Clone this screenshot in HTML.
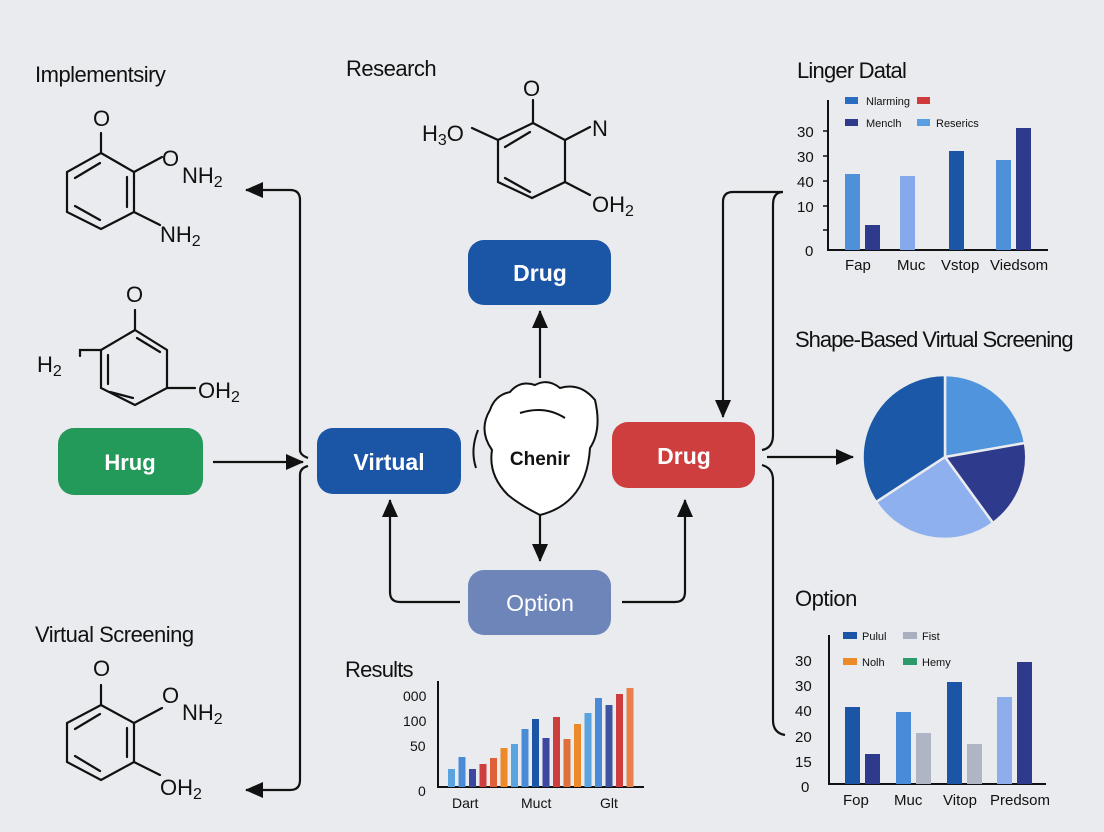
<!DOCTYPE html>
<html><head><meta charset="utf-8"><style>
html,body{margin:0;padding:0;background:#e9ebee;}
svg{display:block;font-family:"Liberation Sans",sans-serif;}
</style></head><body>
<svg width="1104" height="832" viewBox="0 0 1104 832" xmlns="http://www.w3.org/2000/svg">
<defs>
<marker id="ah" markerWidth="10" markerHeight="10" refX="9" refY="5" orient="auto" markerUnits="userSpaceOnUse"><path d="M0,0 L10,5 L0,10 z" fill="#111"/></marker>
<marker id="ahb" markerWidth="18" markerHeight="16" refX="17" refY="8" orient="auto" markerUnits="userSpaceOnUse"><path d="M0,0 L18,8 L0,16 z" fill="#111"/></marker>
</defs>
<rect x="0" y="0" width="1104" height="832" rx="14" fill="#e9ebee"/>

<!-- titles -->
<g fill="#111" font-size="22">
<text x="35" y="82" letter-spacing="-0.5">Implementsiry</text>
<text x="346" y="76" letter-spacing="-0.5">Research</text>
<text x="797" y="78" letter-spacing="-0.8">Linger Datal</text>
<text x="795" y="347" letter-spacing="-1">Shape-Based Virtual Screening</text>
<text x="795" y="606" letter-spacing="-0.5">Option</text>
<text x="35" y="642" letter-spacing="-0.5">Virtual Screening</text>
<text x="345" y="677" letter-spacing="-0.8">Results</text>
</g>

<!-- molecules -->
<g stroke="#111" stroke-width="2.2" fill="none" stroke-linecap="round">
<!-- mol 1 -->
<path d="M101,153 L134,172 L134,212 L101,229 L67,212 L67,172 Z"/>
<path d="M75,178 L100,163 M127,177 L127,207 M75,206 L100,220"/>
<path d="M101,153 L101,133"/>
<path d="M134,172 L162,157 M134,212 L160,225"/>
<!-- mol 2 -->
<path d="M135,330 L167,350 L167,388 L135,405 L101,388 L101,350 Z"/>
<path d="M137,338 L160,352 M108,355 L108,384 M110,392 L133,398"/>
<path d="M135,330 L135,310 M101,350 L80,350 L80,356 M167,388 L195,388"/>
<!-- mol 3 -->
<path d="M101,705 L134,723 L134,762 L101,780 L67,762 L67,723 Z"/>
<path d="M75,729 L100,714 M127,728 L127,757 M75,756 L100,771"/>
<path d="M101,705 L101,685 M134,723 L162,708 M134,762 L160,775"/>
<!-- research mol -->
<path d="M533,123 L565,140 L565,182 L532,198 L498,182 L498,140 Z"/>
<path d="M505,147 L530,132 M505,178 L530,192"/>
<path d="M533,123 L533,100 M498,140 L472,128 M565,140 L590,127 M565,182 L590,195"/>
</g>
<g fill="#111" font-size="22">
<text x="93" y="126">O</text>
<text x="162" y="166">O</text><text x="182" y="183">NH<tspan font-size="16" dy="4">2</tspan></text>
<text x="160" y="242">NH<tspan font-size="16" dy="4">2</tspan></text>
<text x="126" y="302">O</text>
<text x="37" y="372">H<tspan font-size="16" dy="4">2</tspan></text>
<text x="198" y="398">OH<tspan font-size="16" dy="4">2</tspan></text>
<text x="93" y="676">O</text>
<text x="162" y="703">O</text><text x="182" y="720">NH<tspan font-size="16" dy="4">2</tspan></text>
<text x="160" y="795">OH<tspan font-size="16" dy="4">2</tspan></text>
<text x="523" y="96">O</text>
<text x="422" y="141">H<tspan font-size="16" dy="4">3</tspan><tspan dy="-4">O</tspan></text>
<text x="592" y="136">N</text>
<text x="592" y="212">OH<tspan font-size="16" dy="4">2</tspan></text>
</g>

<!-- connectors -->
<g stroke="#111" stroke-width="2.2" fill="none">
<path d="M300,450 L300,200 Q300,190 290,190 L246,190" marker-end="url(#ahb)"/>
<path d="M300,475 L300,780 Q300,790 290,790 L246,790" marker-end="url(#ahb)"/>
<path d="M300,450 Q300,455 308,458"/>
<path d="M300,475 Q300,468 308,466"/>
<path d="M213,462 L303,462" marker-end="url(#ahb)"/>
<path d="M540,378 L540,311" marker-end="url(#ahb)"/>
<path d="M540,512 L540,561" marker-end="url(#ahb)"/>
<path d="M460,602 L400,602 Q390,602 390,592 L390,500" marker-end="url(#ahb)"/>
<path d="M622,602 L675,602 Q685,602 685,592 L685,500" marker-end="url(#ahb)"/>
<path d="M767,457 L853,457" marker-end="url(#ahb)"/>
<path d="M783,192 L733,192 Q723,192 723,202 L723,417" marker-end="url(#ahb)"/>
<path d="M783,192 Q773,192 773,205 L773,435 Q773,448 762,450"/>
<path d="M762,465 Q773,468 773,480 L773,720 Q773,733 785,735"/>
</g>

<!-- boxes -->
<rect x="58" y="428" width="145" height="67" rx="16" fill="#23995a"/>
<text x="130" y="470" text-anchor="middle" fill="#fff" font-size="22" font-weight="bold">Hrug</text>
<rect x="317" y="428" width="144" height="66" rx="16" fill="#1b55a6"/>
<text x="389" y="470" text-anchor="middle" fill="#fff" font-size="23" font-weight="bold">Virtual</text>
<rect x="468" y="240" width="143" height="65" rx="16" fill="#1b55a6"/>
<text x="540" y="281" text-anchor="middle" fill="#fff" font-size="23" font-weight="bold">Drug</text>
<rect x="612" y="422" width="143" height="66" rx="16" fill="#cf3e3e"/>
<text x="684" y="464" text-anchor="middle" fill="#fff" font-size="23" font-weight="bold">Drug</text>
<rect x="468" y="570" width="143" height="65" rx="16" fill="#6d85b8"/>
<text x="540" y="611" text-anchor="middle" fill="#fff" font-size="23">Option</text>

<!-- cloud -->
<path d="M510,392 Q520,380 535,385 Q548,378 560,388 Q580,382 595,400 Q602,430 590,448 Q588,480 572,497 Q560,510 540,515 Q520,505 508,495 Q488,475 492,450 Q478,430 490,410 Q495,395 510,392 Z" fill="#fff" stroke="#111" stroke-width="2"/>
<path d="M520,413 Q545,405 565,418" stroke="#111" stroke-width="2" fill="none"/>
<path d="M478,430 Q470,450 476,468" stroke="#111" stroke-width="2" fill="none"/>
<text x="540" y="465" text-anchor="middle" fill="#111" font-size="19" font-weight="bold">Chenir</text>

<!-- top chart -->
<g font-size="15" fill="#111">
<path d="M828,100 L828,250 L1048,250" stroke="#111" stroke-width="2" fill="none"/>
<path d="M823,131 L828,131 M823,156 L828,156 M823,181 L828,181 M823,206 L828,206 M823,230 L828,230" stroke="#111" stroke-width="1.5"/>
<text x="797" y="137">30</text><text x="797" y="162">30</text><text x="797" y="187">40</text><text x="797" y="212">10</text><text x="805" y="256">0</text>
<rect x="845" y="97" width="13" height="7" fill="#2a6cc0"/><text x="866" y="105" font-size="11">Nlarming</text>
<rect x="917" y="97" width="13" height="7" fill="#d03a3a"/>
<rect x="845" y="119" width="13" height="7" fill="#2e3a8c"/><text x="866" y="127" font-size="11">Menclh</text>
<rect x="917" y="119" width="13" height="7" fill="#5a9de0"/><text x="936" y="127" font-size="11">Reserics</text>
<rect x="845" y="174" width="15" height="76" fill="#4f90db"/>
<rect x="865" y="225" width="15" height="25" fill="#2e3a8c"/>
<rect x="900" y="176" width="15" height="74" fill="#86a9ec"/>
<rect x="949" y="151" width="15" height="99" fill="#1b55a6"/>
<rect x="996" y="160" width="15" height="90" fill="#4f90db"/>
<rect x="1016" y="128" width="15" height="122" fill="#2e3a8c"/>
<text x="845" y="270">Fap</text><text x="897" y="270">Muc</text><text x="941" y="270">Vstop</text><text x="990" y="270">Viedsom</text>
</g>

<!-- pie -->
<g stroke="#e9ebee" stroke-width="2.5">
<path d="M945,457 L945,375 A82,82 0 0 1 1025,443 Z" fill="#4f94dc"/>
<path d="M945,457 L1025,443 A82,82 0 0 1 993,523 Z" fill="#2e3a8c"/>
<path d="M945,457 L993,523 A82,82 0 0 1 876,502 Z" fill="#8fb0ee"/>
<path d="M945,457 L876,502 A82,82 0 0 1 945,375 Z" fill="#1b58a8"/>
</g>

<!-- bottom right chart -->
<g font-size="15" fill="#111">
<path d="M829,635 L829,784 L1046,784" stroke="#111" stroke-width="2" fill="none"/>
<text x="795" y="666">30</text><text x="795" y="691">30</text><text x="795" y="716">40</text><text x="795" y="742">20</text><text x="795" y="767">15</text><text x="801" y="792">0</text>
<rect x="843" y="632" width="14" height="7" fill="#1b55a6"/><text x="862" y="640" font-size="11">Pulul</text>
<rect x="903" y="632" width="14" height="7" fill="#a9afbe"/><text x="922" y="640" font-size="11">Fist</text>
<rect x="843" y="658" width="14" height="7" fill="#ec8a2a"/><text x="862" y="666" font-size="11">Nolh</text>
<rect x="903" y="658" width="14" height="7" fill="#2d9a6a"/><text x="922" y="666" font-size="11">Hemy</text>
<rect x="845" y="707" width="15" height="77" fill="#1b55a6"/>
<rect x="865" y="754" width="15" height="30" fill="#2e3a8c"/>
<rect x="896" y="712" width="15" height="72" fill="#4a8bd8"/>
<rect x="916" y="733" width="15" height="51" fill="#b0b5c5"/>
<rect x="947" y="682" width="15" height="102" fill="#1b55a6"/>
<rect x="967" y="744" width="15" height="40" fill="#b0b5c5"/>
<rect x="997" y="697" width="15" height="87" fill="#8dadec"/>
<rect x="1017" y="662" width="15" height="122" fill="#2e3a8c"/>
<text x="843" y="805">Fop</text><text x="894" y="805">Muc</text><text x="943" y="805">Vitop</text><text x="990" y="805">Predsom</text>
</g>

<!-- results chart -->
<g font-size="14" fill="#111">
<path d="M438,681 L438,787 L644,787" stroke="#111" stroke-width="2" fill="none"/>
<text x="403" y="701">000</text><text x="403" y="726">100</text><text x="410" y="751">50</text><text x="418" y="796">0</text>
<rect x="448" y="769" width="7" height="18" fill="#5ba3df"/>
<rect x="458.5" y="757" width="7" height="30" fill="#4a8bd8"/>
<rect x="469" y="769" width="7" height="18" fill="#3d47a0"/>
<rect x="479.5" y="764" width="7" height="23" fill="#cf3e3e"/>
<rect x="490" y="758" width="7" height="29" fill="#e0603a"/>
<rect x="500.5" y="748" width="7" height="39" fill="#ec8a2a"/>
<rect x="511" y="744" width="7" height="43" fill="#5ba3df"/>
<rect x="521.5" y="729" width="7" height="58" fill="#4a8bd8"/>
<rect x="532" y="719" width="7" height="68" fill="#1b55a6"/>
<rect x="542.5" y="738" width="7" height="49" fill="#3d47a0"/>
<rect x="553" y="717" width="7" height="70" fill="#cf3e3e"/>
<rect x="563.5" y="739" width="7" height="48" fill="#e0703a"/>
<rect x="574" y="724" width="7" height="63" fill="#ec8a2a"/>
<rect x="584.5" y="713" width="7" height="74" fill="#5ba3df"/>
<rect x="595" y="698" width="7" height="89" fill="#4a8bd8"/>
<rect x="605.5" y="705" width="7" height="82" fill="#3d55a0"/>
<rect x="616" y="694" width="7" height="93" fill="#cf3e3e"/>
<rect x="626.5" y="688" width="7" height="99" fill="#e8804a"/>
<text x="452" y="808">Dart</text><text x="521" y="808">Muct</text><text x="600" y="808">Glt</text>
</g>
</svg>
</body></html>
